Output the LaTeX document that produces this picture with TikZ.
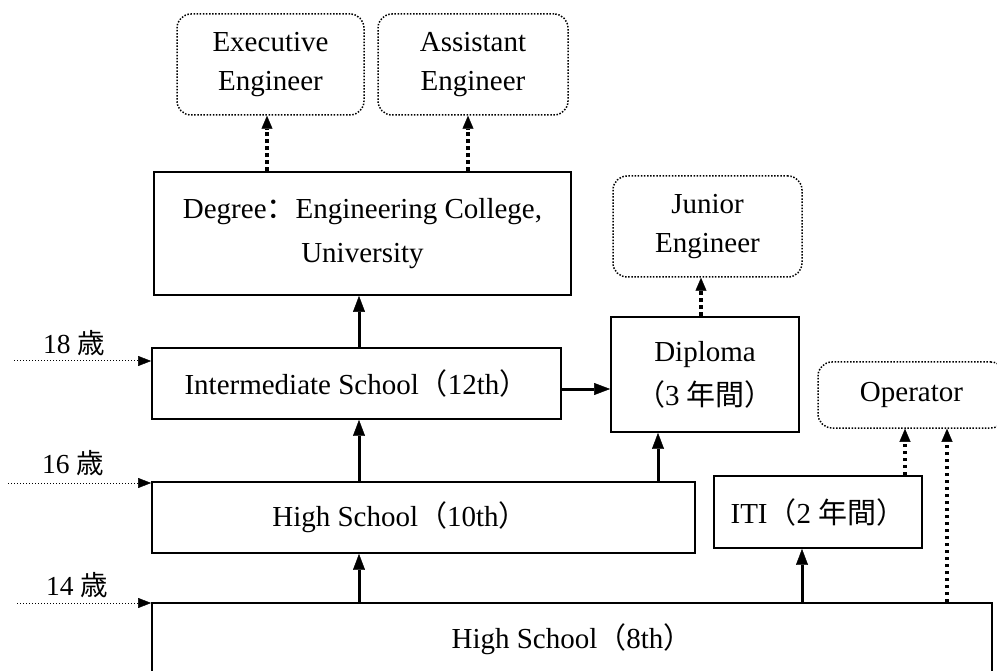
\documentclass[tikz,border=0pt]{standalone}
\usepackage{fontspec}
\setmainfont{Liberation Serif}
\newfontfamily\jp{Noto Sans CJK SC}
\usetikzlibrary{arrows.meta}
\newcommand\boxfont{\fontsize{29pt}{44pt}\selectfont}
\newcommand\jobfont{\fontsize{29pt}{39pt}\selectfont}
\newcommand\agefont{\fontsize{27.5pt}{30pt}\selectfont}

\begin{document}
\begin{tikzpicture}[x=1pt,y=-1pt,
  stagebox/.style={draw, line width=1.8pt, inner sep=0pt, align=center, font=\boxfont},
  jobbox/.style={draw, line width=1.5pt, dash pattern=on 1.5pt off 1.6pt,
    rounded corners=14pt, inner sep=0pt, align=center, font=\jobfont},
  plain/.style={inner sep=0pt, font=\boxfont},
  agelabel/.style={inner sep=0pt, font=\agefont},
  route/.style={line width=3pt, -{Triangle[length=16pt,width=12pt,line width=0.4pt]}},
  jobroute/.style={line width=3.6pt, dash pattern=on 3.6pt off 3.4pt,
    -{Triangle[length=13pt,width=11pt,line width=0.4pt]}},
  agearrow/.style={line width=1pt, dash pattern=on 1pt off 2pt,
    -{Triangle[length=13pt,width=10pt,line width=0.4pt]}}]

\useasboundingbox (0,0) rectangle (997,671);
\fill[white] (0,0) rectangle (997,671);
\clip (0,0) rectangle (997,671);

% occupations
\node[jobbox, minimum width=187pt, minimum height=101pt] (exec) at (270.5,64.5) {Executive\\Engineer};
\node[jobbox, minimum width=190pt, minimum height=101pt] (assist) at (473,64.5) {Assistant\\Engineer};
\node[jobbox, minimum width=189pt, minimum height=101pt] (junior) at (707.5,226.5) {Junior\\Engineer};
\node[jobbox, minimum width=187pt, minimum height=66pt] (operator) at (911.5,395) {Operator};

% schooling stages
\node[stagebox, minimum width=417pt, minimum height=123pt] (degree) at (362.5,233.5)
  {Degree{\jp ：}Engineering College,\\University};
\node[stagebox, minimum width=188pt, minimum height=115pt] (diploma) at (705,374.5)
  {Diploma\\{\jp （}3 {\jp 年間）}};
\node[stagebox, minimum width=409pt, minimum height=71pt] (inter) at (356.5,383.5)
  {Intermediate School{\jp （}12th{\jp ）}};
\node[stagebox, minimum width=543pt, minimum height=71pt] (hs10) at (423.5,517.5) {};
\node[plain] (hs10text) at (400,517.5) {High School{\jp （}10th{\jp ）}};
\node[stagebox, minimum width=208pt, minimum height=72pt] (iti) at (818,512)
  {ITI{\jp （}2 {\jp 年間）}};
\node[stagebox, minimum width=840pt, minimum height=72pt] (hs8) at (572,639)
  {High School{\jp （}8th{\jp ）}};

% ages
\node[agelabel] (age18) at (74,343) {18 {\jp 歳}};
\node[agelabel] (age16) at (73,463) {16 {\jp 歳}};
\node[agelabel] (age14) at (77,585) {14 {\jp 歳}};
\coordinate (a18) at (14,361);
\coordinate (a16) at (8,483);
\coordinate (a14) at (17,603);
\draw[agearrow] (a18) -- (a18 -| inter.west);
\draw[agearrow] (a16) -- (a16 -| hs10.west);
\draw[agearrow] (a14) -- (a14 -| hs8.west);

% progression between stages
\draw[route] ([xshift=2.5pt]inter.north) -- ([xshift=2.5pt]inter.north |- degree.south);
\draw[route] ([xshift=2.5pt]inter.south |- hs10.north) -- ([xshift=2.5pt]inter.south);
\draw[route] ([xshift=2.5pt]inter.south |- hs8.north) -- ([xshift=2.5pt]inter.south |- hs10.south);
\draw[route] ([xshift=-47pt]diploma.south |- hs10.north) -- ([xshift=-47pt]diploma.south);
\draw[route] ([yshift=-5.5pt]inter.east) -- ([yshift=-5.5pt]inter.east -| diploma.west);
\draw[route] ([xshift=-16pt]iti.south |- hs8.north) -- ([xshift=-16pt]iti.south);

% routes into occupations
\draw[jobroute] ([xshift=-3.5pt]exec.south |- degree.north) -- ([xshift=-3.5pt]exec.south);
\draw[jobroute] ([xshift=-5pt]assist.south |- degree.north) -- ([xshift=-5pt]assist.south);
\draw[jobroute] ([xshift=-6.5pt]junior.south |- diploma.north) -- ([xshift=-6.5pt]junior.south);
\draw[jobroute] ([xshift=-6.5pt]operator.south |- iti.north) -- ([xshift=-6.5pt]operator.south);
\draw[jobroute] ([xshift=35.5pt]operator.south |- hs8.north) -- ([xshift=35.5pt]operator.south);
\end{tikzpicture}
\end{document}
